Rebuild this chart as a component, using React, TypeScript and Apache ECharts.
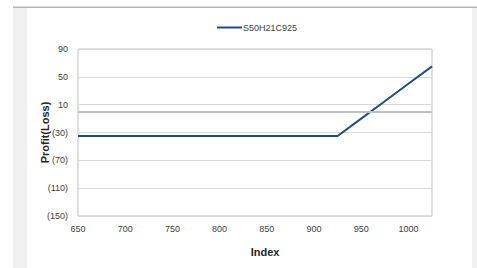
import React, { useEffect, useRef } from "react";
import * as echarts from "echarts";

const seriesName = "S50H21C925";
const indexValues = [650, 700, 750, 800, 850, 900, 925, 950, 975, 1000, 1025];
const profitValues = [-35, -35, -35, -35, -35, -35, -35, -10, 15, 40, 65];
const yAxisName = "Profit(Loss)";
const xAxisName = "Index";

export default function App() {
  const ref = useRef<HTMLDivElement>(null);
  useEffect(() => {
    if (!ref.current) return;
    const chart = echarts.init(ref.current, null, { renderer: "svg" });
    const font = "Liberation Sans";
    chart.setOption({
      animation: false,
      backgroundColor: "#ffffff",
      textStyle: { fontFamily: font },
      graphic: [
        { type: "rect", left: 13, top: 7, shape: { width: 14, height: 261 }, style: { fill: "#f0f0f0" }, silent: true, z: -10 },
        { type: "rect", left: 472, top: 7, shape: { width: 5, height: 261 }, style: { fill: "#f0f0f0" }, silent: true, z: -10 },
        { type: "rect", left: 13, top: 6.5, shape: { width: 464, height: 1.5 }, style: { fill: "#b4b4b4" }, silent: true, z: -9 },
      ],
      legend: {
        data: [seriesName],
        left: 212,
        top: 18,
        itemWidth: 25,
        itemHeight: 2,
        itemGap: 0,
        icon: "rect",
        itemStyle: { color: "#1f4e79" },
        textStyle: { fontSize: 9, color: "#404040", fontFamily: font, padding: [0, 0, 0, -4] },
      },
      grid: {
        left: 78,
        top: 49,
        width: 354,
        height: 167,
        show: true,
        borderColor: "#bfbfbf",
        borderWidth: 1,
        backgroundColor: "transparent",
      },
      xAxis: {
        type: "value",
        min: 650,
        max: 1025,
        interval: 50,
        name: xAxisName,
        nameLocation: "middle",
        nameGap: 30,
        nameTextStyle: { fontSize: 11, fontWeight: "bold", color: "#262626", fontFamily: font, padding: [0, 0, 0, 20] },
        axisLine: { show: false },
        axisTick: { show: false },
        splitLine: { show: false },
        axisLabel: { fontSize: 9, color: "#404040", margin: 8, showMaxLabel: false, formatter: (v: number) => `${v}` },
      },
      yAxis: {
        type: "value",
        min: -150,
        max: 90,
        interval: 40,
        name: yAxisName,
        nameLocation: "middle",
        nameGap: 28,
        nameMoveOverlap: false,
        nameRotate: 90,
        nameTextStyle: { fontSize: 11, fontWeight: "bold", color: "#262626", fontFamily: font },
        axisLine: { show: false },
        axisTick: { show: false },
        splitLine: { show: true, lineStyle: { color: "#d9d9d9", width: 1 } },
        axisLabel: {
          fontSize: 9,
          color: "#404040",
          margin: 10,
          formatter: (v: number) => (v < 0 ? `(${-v})` : `${v}`),
        },
      },
      series: [
        {
          name: seriesName,
          type: "line",
          data: indexValues.map((x, i) => [x, profitValues[i]]),
          showSymbol: false,
          symbol: "none",
          lineStyle: { color: "#1f4e79", width: 2 },
          itemStyle: { color: "#1f4e79" },
          markLine: {
            silent: true,
            symbol: "none",
            label: { show: false },
            lineStyle: { color: "#bfbfbf", width: 2, type: "solid" },
            data: [{ yAxis: 0 }],
          },
        },
      ],
    });
    return () => chart.dispose();
  }, []);
  return <div ref={ref} style={{ position: "absolute", left: 0, top: 0, width: 477, height: 268 }} />;
}
